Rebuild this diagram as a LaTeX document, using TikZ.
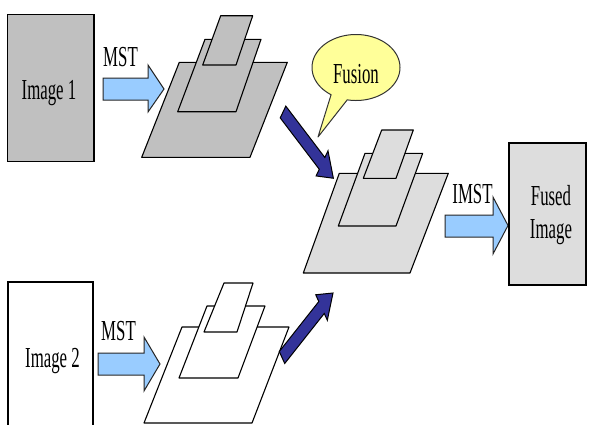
\documentclass[tikz,border=0pt]{standalone}
\usepackage{fontspec}
\setmainfont{Liberation Serif}[FakeStretch=0.58]
\definecolor{boxgrey}{HTML}{C0C0C0}
\definecolor{lightgrey}{HTML}{DDDDDD}
\definecolor{lightblue}{HTML}{99CCFF}
\definecolor{navy}{HTML}{333399}
\definecolor{callout}{HTML}{FFFF99}
\tikzset{
  imgbox/.style={draw=black, line width=1.5pt},
  layer/.style={draw=black, line width=1.1pt, line join=round},
  lblock/.style={draw=black!85, fill=lightblue, line width=1pt, line join=miter},
  dblock/.style={draw=black, fill=navy, line width=1pt, line join=miter},
  lbl/.style={inner sep=0pt, anchor=base, font=\fontsize{29}{33}\selectfont}
}
\begin{document}
\begin{tikzpicture}[x=1pt, y=-1pt]
\useasboundingbox (0,0) rectangle (589,424);
\clip (0,0) rectangle (589,424);
\fill[white] (0,0) rectangle (589,424);

% input boxes
\draw[imgbox, fill=boxgrey] (7.5,14.5) rectangle (94,161.5);
\node[lbl] (img1) at (49,99) {Image 1};
\draw[imgbox, fill=white] (8,282) rectangle (93,440);
\node[lbl] (img2) at (52.5,367) {Image 2};

% MST arrows
\draw[lblock] (103,78) -- (148,78) -- (148,65) -- (164,89) -- (148,112) -- (148,100) -- (103,100) -- cycle;
\node[lbl] (mst1) at (120.5,66.7) {MST};
\draw[lblock] (98,353) -- (144,353) -- (144,337) -- (160,364) -- (144,391) -- (144,375) -- (98,375) -- cycle;
\node[lbl] (mst2) at (118.5,340) {MST};

% stack 1
\draw[layer, fill=boxgrey] (179.3,62.3) -- (287.3,62.3) -- (250,157.3) -- (141.7,157.3) -- cycle;
\draw[layer, fill=boxgrey] (205,39.3) -- (261,39.3) -- (236,111.7) -- (177.7,111.7) -- cycle;
\draw[layer, fill=boxgrey] (220.7,15.7) -- (252.7,15.7) -- (236,65) -- (202.7,65) -- cycle;

% stack 2
\draw[layer, fill=white] (182,327) -- (289,327) -- (252,423) -- (144,423) -- cycle;
\draw[layer, fill=white] (207,306) -- (265,306) -- (238,378) -- (179,378) -- cycle;
\draw[layer, fill=white] (224,283) -- (253,283) -- (237,332) -- (204,332) -- cycle;

% stack 3 (fused)
\draw[layer, fill=lightgrey] (339.3,173.3) -- (448.3,173.3) -- (410,273) -- (303.3,273) -- cycle;
\draw[layer, fill=lightgrey] (365,153.3) -- (422.7,153.3) -- (396,226) -- (338.3,226) -- cycle;
\draw[layer, fill=lightgrey] (381.7,130) -- (413.3,130) -- (396,178.3) -- (363.3,178.3) -- cycle;

% dark fusion arrows
\begin{scope}[xscale=0.6]
  \begin{scope}[shift={(471.7,112)}, rotate=-38.3]
    \draw[dblock] (0,-7.5) -- (82.9,-7.5) -- (82.9,-16) -- (106.9,0) -- (82.9,16) -- (82.9,7.5) -- (0,7.5) -- cycle;
  \end{scope}
  \begin{scope}[shift={(470,357.5)}, rotate=37.2]
    \draw[dblock] (0,-7.5) -- (82.7,-7.5) -- (82.7,-16) -- (106.7,0) -- (82.7,16) -- (82.7,7.5) -- (0,7.5) -- cycle;
  \end{scope}
\end{scope}

% callout
\draw[draw=black!80, fill=callout, line width=1pt, line join=round]
  plot[domain=124.5:461.5, samples=120, smooth] ({356+44*cos(\x)},{67.5+33*sin(\x)})
  -- (318,137) -- cycle;
\node[lbl] (fusion) at (356,83) {Fusion};

% IMST arrow
\draw[lblock] (445,215) -- (493,215) -- (493,197) -- (508,225.5) -- (493,254) -- (493,237) -- (445,237) -- cycle;
\node[lbl] (imst) at (472.5,203) {IMST};

% fused image box
\draw[imgbox, fill=lightgrey] (509,143) rectangle (586,285);
\node[lbl] (fused1) at (551,205) {Fused};
\node[lbl] (fused2) at (551,238) {Image};
\end{tikzpicture}
\end{document}
